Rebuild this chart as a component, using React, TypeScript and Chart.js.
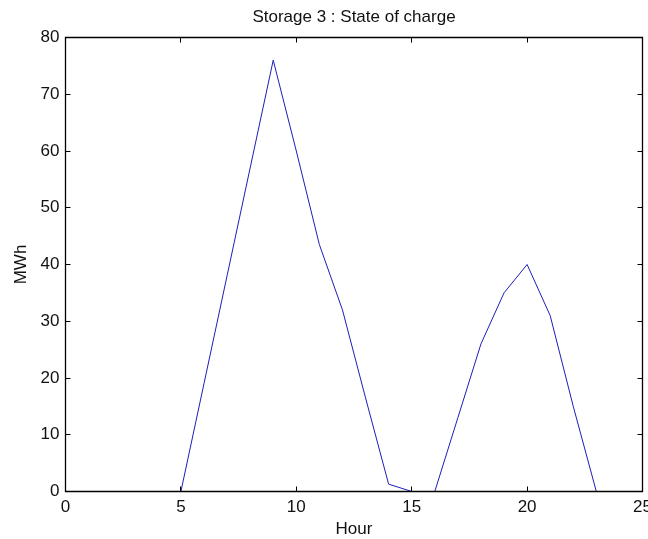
import React, { useEffect, useRef } from "react";
import { Chart, registerables } from "chart.js";

Chart.register(...registerables);

const hours = [1, 2, 3, 4, 5, 6, 7, 8, 9, 10, 11, 12, 13, 14, 15, 16, 17, 18, 19, 20, 21, 22, 23, 24];
const stateOfCharge = [0, 0, 0, 0, 0, 19, 38, 57, 76, 60, 43.5, 32, 16.5, 1.3, 0, 0, 13, 26, 35, 40, 31, 15, 0, 0];
const xTicks = [0, 5, 10, 15, 20, 25];
const yTicks = [0, 10, 20, 30, 40, 50, 60, 70, 80];

const FONT = "'Liberation Sans', Arial, sans-serif";

const boxPlugin = {
  id: "matlabBox",
  afterDatasetsDraw(chart: any) {
    const { ctx, chartArea, scales } = chart;
    const xs = scales.x;
    const ys = scales.y;
    const L = chartArea.left;
    const R = chartArea.right;
    const T = chartArea.top;
    const B = chartArea.bottom;
    ctx.save();
    ctx.strokeStyle = "#000";
    ctx.lineWidth = 1.3;
    ctx.beginPath();
    ctx.rect(L, T, R - L, B - T);
    ctx.stroke();
    ctx.lineWidth = 1;
    ctx.beginPath();
    const tl = 5;
    for (const v of xTicks) {
      const px = Math.round(xs.getPixelForValue(v) - 0.5) + 0.5;
      ctx.moveTo(px, B);
      ctx.lineTo(px, B - tl);
      ctx.moveTo(px, T);
      ctx.lineTo(px, T + tl);
    }
    for (const v of yTicks) {
      const py = Math.round(ys.getPixelForValue(v) - 0.5) + 0.5;
      ctx.moveTo(L, py);
      ctx.lineTo(L + tl, py);
      ctx.moveTo(R, py);
      ctx.lineTo(R - tl, py);
    }
    ctx.stroke();
    ctx.restore();
  },
};

export default function App() {
  const ref = useRef<HTMLCanvasElement | null>(null);
  useEffect(() => {
    if (!ref.current) return;
    const chart = new Chart(ref.current, {
      type: "line",
      data: {
        datasets: [
          {
            data: hours.map((h, i) => ({ x: h, y: stateOfCharge[i] })),
            borderColor: "rgb(30,30,185)",
            borderWidth: 1,
            pointRadius: 0,
            tension: 0,
            fill: false,
            clip: 0,
          },
        ],
      },
      options: {
        animation: false,
        responsive: false,
        devicePixelRatio: 1,
        layout: { padding: { left: 0, right: 5.5, top: 0, bottom: 0 } },
        plugins: {
          legend: { display: false },
          tooltip: { enabled: false },
          title: {
            display: true,
            text: "Storage 3 : State of charge",
            color: "#111",
            fullSize: false,
            font: { family: FONT, size: 17, weight: "normal" },
            padding: { top: 7, bottom: 10.1 },
          },
        },
        scales: {
          x: {
            type: "linear",
            min: 0,
            max: 25,
            afterBuildTicks: (s: any) => {
              s.ticks = xTicks.map((v) => ({ value: v }));
            },
            afterFit: (s: any) => {
              s.height = 47.5;
              s.paddingLeft = 0;
              s.paddingRight = 0;
            },
            grid: { display: false, drawTicks: false },
            border: { display: false },
            ticks: {
              color: "#111",
              padding: 6,
              maxRotation: 0,
              autoSkip: false,
              font: { family: FONT, size: 17 },
            },
            title: {
              display: true,
              text: "Hour",
              color: "#111",
              font: { family: FONT, size: 17, lineHeight: 1 },
              padding: { top: 0, bottom: 1 },
            },
          },
          y: {
            type: "linear",
            min: 0,
            max: 80,
            afterBuildTicks: (s: any) => {
              s.ticks = yTicks.map((v) => ({ value: v }));
            },
            afterFit: (s: any) => {
              s.width = 65.5;
              s.paddingTop = 0;
              s.paddingBottom = 0;
            },
            grid: { display: false, drawTicks: false },
            border: { display: false },
            ticks: {
              color: "#111",
              padding: 6,
              autoSkip: false,
              font: { family: FONT, size: 17 },
            },
            title: {
              display: true,
              text: "MWh",
              color: "#111",
              font: { family: FONT, size: 17 },
              padding: { top: 11, bottom: 0 },
            },
          },
        },
      },
      plugins: [boxPlugin],
    });
    return () => chart.destroy();
  }, []);
  return (
    <div style={{ position: "fixed", left: 0, top: 0, width: 648, height: 539, background: "#fff" }}>
      <canvas ref={ref} width={648} height={539} style={{ display: "block" }} />
    </div>
  );
}
